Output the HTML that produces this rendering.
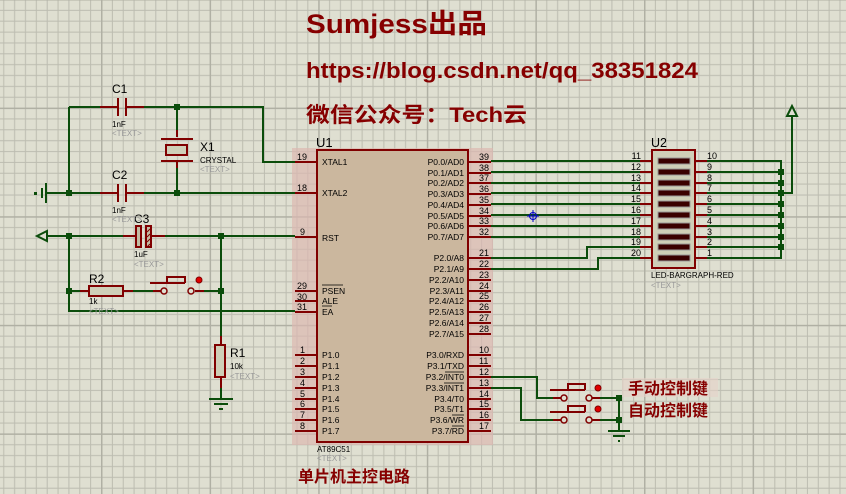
<!DOCTYPE html>
<html><head><meta charset="utf-8"><style>
html,body{margin:0;padding:0;background:#dfdfd1;}
svg{display:block;font-family:"Liberation Sans","Noto Sans CJK SC",sans-serif;}
</style></head><body>
<svg width="846" height="494" viewBox="0 0 846 494" xmlns="http://www.w3.org/2000/svg">
<defs>
<pattern id="g" x="-7.6" y="-1" width="108.6" height="108.6" patternUnits="userSpaceOnUse">
<g stroke="#bcbcb0" stroke-width="1">
<path d="M0.5 0V108.6M11.36 0V108.6M22.22 0V108.6M33.08 0V108.6M43.94 0V108.6M54.8 0V108.6M65.66 0V108.6M76.52 0V108.6M87.38 0V108.6M98.24 0V108.6"/>
<path d="M0 0.5H108.6M0 11.36H108.6M0 22.22H108.6M0 33.08H108.6M0 43.94H108.6M0 54.8H108.6M0 65.66H108.6M0 76.52H108.6M0 87.38H108.6M0 98.24H108.6"/>
</g>
<path d="M0.5 0V108.6M0 0.5H108.6" stroke="#b0b0a4" stroke-width="2"/>
</pattern>
</defs>
<rect width="846" height="494" fill="#dfdfd1"/>
<rect width="846" height="494" fill="url(#g)"/>

<!-- titles -->
<g fill="#860000" font-weight="bold">
<text x="306" y="33" font-size="27" textLength="181" lengthAdjust="spacingAndGlyphs">Sumjess出品</text>
<text x="306" y="78" font-size="22.5" textLength="392" lengthAdjust="spacingAndGlyphs">https://blog.csdn.net/qq_38351824</text>
<text x="306" y="122" font-size="21" textLength="221" lengthAdjust="spacingAndGlyphs">微信公众号：Tech云</text>
<text x="298" y="482" font-size="16">单片机主控电路</text>
</g>

<!-- U1 -->
<rect x="292" y="148" width="201" height="297" fill="#dcb8b0" opacity="0.7"/>
<rect x="317" y="150" width="151" height="292" fill="#cbb79e" stroke="#800000" stroke-width="2"/>
<text x="316" y="147" font-size="13" fill="#000">U1</text>
<text x="317" y="452" font-size="8" fill="#000">AT89C51</text>
<text x="317" y="461" font-size="8" fill="#999">&lt;TEXT&gt;</text>
<g stroke="#800000" stroke-width="2">
<path d="M295 162H317M295 193H317M295 237H317M295 291H317M295 301H317M295 312H317"/>
<path d="M295 355H317M295 366H317M295 377H317M295 388H317M295 399H317M295 409H317M295 420H317M295 431H317"/>
<path d="M468 162H491M468 173H491M468 183H491M468 194H491M468 205H491M468 216H491M468 226H491M468 237H491"/>
<path d="M468 258H491M468 269H491M468 280H491M468 291H491M468 301H491M468 312H491M468 323H491M468 334H491"/>
<path d="M468 355H491M468 366H491M468 377H491M468 388H491M468 399H491M468 409H491M468 420H491M468 431H491"/>
</g>
<g font-size="9" fill="#000">
<text x="297" y="160">19</text><text x="297" y="191">18</text><text x="300" y="235">9</text>
<text x="297" y="289">29</text><text x="297" y="300">30</text><text x="297" y="310">31</text>
<text x="300" y="353">1</text><text x="300" y="364">2</text><text x="300" y="375">3</text><text x="300" y="386">4</text><text x="300" y="397">5</text><text x="300" y="407">6</text><text x="300" y="418">7</text><text x="300" y="429">8</text>
<text x="479" y="160">39</text><text x="479" y="171">38</text><text x="479" y="181">37</text><text x="479" y="192">36</text><text x="479" y="203">35</text><text x="479" y="214">34</text><text x="479" y="224">33</text><text x="479" y="235">32</text>
<text x="479" y="256">21</text><text x="479" y="267">22</text><text x="479" y="278">23</text><text x="479" y="289">24</text><text x="479" y="299">25</text><text x="479" y="310">26</text><text x="479" y="321">27</text><text x="479" y="332">28</text>
<text x="479" y="353">10</text><text x="479" y="364">11</text><text x="479" y="375">12</text><text x="479" y="386">13</text><text x="479" y="397">14</text><text x="479" y="407">15</text><text x="479" y="418">16</text><text x="479" y="429">17</text>
</g>
<g font-size="8.5" fill="#000">
<text x="322" y="165">XTAL1</text><text x="322" y="196">XTAL2</text><text x="322" y="241">RST</text>
<text x="322" y="294">PSEN</text><text x="322" y="304">ALE</text><text x="322" y="315">EA</text>
<text x="322" y="358">P1.0</text><text x="322" y="369">P1.1</text><text x="322" y="380">P1.2</text><text x="322" y="391">P1.3</text><text x="322" y="402">P1.4</text><text x="322" y="412">P1.5</text><text x="322" y="423">P1.6</text><text x="322" y="434">P1.7</text>
</g>
<path d="M322 285H343M322 306H332" stroke="#000" stroke-width="0.7"/>
<g font-size="8.5" fill="#000" text-anchor="end">
<text x="464" y="165">P0.0/AD0</text><text x="464" y="176">P0.1/AD1</text><text x="464" y="186">P0.2/AD2</text><text x="464" y="197">P0.3/AD3</text><text x="464" y="208">P0.4/AD4</text><text x="464" y="219">P0.5/AD5</text><text x="464" y="229">P0.6/AD6</text><text x="464" y="240">P0.7/AD7</text>
<text x="464" y="261">P2.0/A8</text><text x="464" y="272">P2.1/A9</text><text x="464" y="283">P2.2/A10</text><text x="464" y="294">P2.3/A11</text><text x="464" y="304">P2.4/A12</text><text x="464" y="315">P2.5/A13</text><text x="464" y="326">P2.6/A14</text><text x="464" y="337">P2.7/A15</text>
<text x="464" y="358">P3.0/RXD</text><text x="464" y="369">P3.1/TXD</text><text x="464" y="380">P3.2/INT0</text><text x="464" y="391">P3.3/INT1</text><text x="464" y="402">P3.4/T0</text><text x="464" y="412">P3.5/T1</text><text x="464" y="423">P3.6/WR</text><text x="464" y="434">P3.7/RD</text>
</g>
<path d="M445 372H464M444 383H464M452 415H464M452 426H464" stroke="#000" stroke-width="0.7"/>

<!-- U2 -->
<rect x="652" y="150" width="43" height="118" fill="#cfcfb8" stroke="#800000" stroke-width="2"/>
<g fill="#3a0000" stroke="#999" stroke-width="1">
<rect x="658" y="158" width="32" height="6"/><rect x="658" y="169" width="32" height="6"/><rect x="658" y="180" width="32" height="6"/><rect x="658" y="190" width="32" height="6"/><rect x="658" y="201" width="32" height="6"/>
<rect x="658" y="212" width="32" height="6"/><rect x="658" y="223" width="32" height="6"/><rect x="658" y="234" width="32" height="6"/><rect x="658" y="244" width="32" height="6"/><rect x="658" y="255" width="32" height="6"/>
</g>
<text x="651" y="147" font-size="12.5" fill="#000">U2</text>
<text x="651" y="278" font-size="8" fill="#000">LED-BARGRAPH-RED</text>
<text x="651" y="288" font-size="8" fill="#999">&lt;TEXT&gt;</text>
<g stroke="#800000" stroke-width="2">
<path d="M640 161H652M640 172H652M640 183H652M640 193H652M640 204H652M640 215H652M640 226H652M640 237H652M640 247H652M640 258H652"/>
<path d="M695 161H707M695 172H707M695 183H707M695 193H707M695 204H707M695 215H707M695 226H707M695 237H707M695 247H707M695 258H707"/>
</g>
<g font-size="9" fill="#000">
<g text-anchor="end"><text x="641" y="159">11</text><text x="641" y="170">12</text><text x="641" y="181">13</text><text x="641" y="191">14</text><text x="641" y="202">15</text><text x="641" y="213">16</text><text x="641" y="224">17</text><text x="641" y="235">18</text><text x="641" y="245">19</text><text x="641" y="256">20</text></g>
<text x="707" y="159">10</text><text x="707" y="170">9</text><text x="707" y="181">8</text><text x="707" y="191">7</text><text x="707" y="202">6</text><text x="707" y="213">5</text><text x="707" y="224">4</text><text x="707" y="235">3</text><text x="707" y="245">2</text><text x="707" y="256">1</text>
</g>

<!-- wires -->
<g stroke="#0b4d0b" stroke-width="2" fill="none">
<path d="M491 161H640M491 172H640M491 183H640M491 193H640M491 204H640M491 215H640M491 226H640M491 237H640"/>
<path d="M491 258H587V247H640M491 269H598V258H640"/>
<path d="M707 161H781V258H707M707 172H781M707 183H781M707 193H792V113M707 204H781M707 215H781M707 226H781M707 237H781M707 247H781"/>
<path d="M69 107H110M134 107H263V162H295M69 107V193M47 193H110M134 193H295M177 107V137M177 161V193"/>
<path d="M47 236H127M160 236H295M69 236V311H295M69 291H80M132 291H153M204 291H221M221 236V336"/>
<path d="M491 377H537V398H553M491 388H521V420H553M600 398H619M600 420H619M619 398V431"/>
<path d="M221 388V399"/>
</g>
<path d="M792 106L787 116H797Z" fill="#dfdfd1" stroke="#0b4d0b" stroke-width="2"/>
<path d="M37 236L47 231V241Z" fill="#dfdfd1" stroke="#0b4d0b" stroke-width="2"/>
<path d="M46 183V203M42 188V198" stroke="#0b4d0b" stroke-width="2"/>
<rect x="34" y="192" width="3" height="3" fill="#0b4d0b"/>
<g fill="#0b4d0b">
<rect x="66" y="190" width="6" height="6"/><rect x="174" y="104" width="6" height="6"/><rect x="174" y="190" width="6" height="6"/>
<rect x="66" y="233" width="6" height="6"/><rect x="218" y="233" width="6" height="6"/><rect x="66" y="288" width="6" height="6"/><rect x="218" y="288" width="6" height="6"/>
<rect x="778" y="169" width="6" height="6"/><rect x="778" y="180" width="6" height="6"/><rect x="778" y="190" width="6" height="6"/><rect x="778" y="201" width="6" height="6"/><rect x="778" y="212" width="6" height="6"/><rect x="778" y="223" width="6" height="6"/><rect x="778" y="234" width="6" height="6"/><rect x="778" y="244" width="6" height="6"/>
<rect x="616" y="395" width="6" height="6"/><rect x="616" y="417" width="6" height="6"/>
</g>

<!-- caps -->
<g stroke="#800000" stroke-width="2" fill="none">
<path d="M100 107H118M126 107H144M118 98V116M126 98V116"/>
<path d="M100 193H118M126 193H144M118 184V202M126 184V202"/>
<path d="M123 236H136M150 236H165"/>
<path d="M177 130V137M177 161V168M161 139H193M161 161H193"/>
<path d="M80 291H89M123 291H133M221 336V345M221 377V388"/>
<path d="M153 291H161M195 291H204M150 283H185M167 283V277H185V283"/>
<path d="M553 398H561M592 398H600M550 390H585M568 390V384H585V390"/>
<path d="M553 420H561M592 420H600M550 412H585M568 412V406H585V412"/>
</g>
<rect x="136" y="226" width="5" height="21" fill="#c3bca4" stroke="#800000" stroke-width="2"/>
<rect x="146" y="226" width="5" height="21" fill="#c3bca4" stroke="#800000" stroke-width="2"/>
<path d="M147 232l3-3M147 237l3-3M147 242l3-3M147 247l3-3" stroke="#800000"/>
<rect x="166" y="145" width="21" height="10" fill="#cfcfb8" stroke="#800000" stroke-width="2"/>
<rect x="89" y="286" width="34" height="10" fill="#cfcfb8" stroke="#800000" stroke-width="2"/>
<rect x="215" y="345" width="10" height="32" fill="#cfcfb8" stroke="#800000" stroke-width="2"/>
<g fill="#dfdfd1" stroke="#800000" stroke-width="1.5">
<circle cx="164" cy="291" r="3"/><circle cx="191" cy="291" r="3"/>
<circle cx="564" cy="398" r="3"/><circle cx="589" cy="398" r="3"/>
<circle cx="564" cy="420" r="3"/><circle cx="589" cy="420" r="3"/>
</g>
<g fill="#e00000" stroke="#800000"><circle cx="199" cy="280" r="3"/><circle cx="598" cy="388" r="3"/><circle cx="598" cy="409" r="3"/></g>
<!-- grounds -->
<g stroke="#0b4d0b" stroke-width="2"><path d="M209 399H233M214 404H228M219 409H223"/><path d="M608 431H630M613 436H625M618 441H620"/></g>

<g font-size="12" fill="#000">
<text x="112" y="93">C1</text><text x="112" y="179">C2</text><text x="134" y="223">C3</text><text x="200" y="151">X1</text><text x="89" y="283">R2</text><text x="230" y="357">R1</text>
</g>
<g font-size="8" fill="#000">
<text x="112" y="127">1nF</text><text x="112" y="213">1nF</text><text x="134" y="257">1uF</text><text x="200" y="163">CRYSTAL</text><text x="89" y="304">1k</text><text x="230" y="369">10k</text>
</g>
<g font-size="8" fill="#999">
<text x="112" y="136">&lt;TEXT&gt;</text><text x="112" y="222">&lt;TEXT&gt;</text><text x="134" y="267">&lt;TEXT&gt;</text><text x="200" y="172">&lt;TEXT&gt;</text><text x="89" y="314">&lt;TEXT&gt;</text><text x="230" y="379">&lt;TEXT&gt;</text>
</g>

<rect x="622" y="378" width="96" height="19" fill="#e6d2c8" opacity="0.6"/>
<g fill="#860000" font-size="16" font-weight="bold"><text x="628" y="394">手动控制键</text><text x="628" y="416">自动控制键</text></g>

<g stroke="#0000cc" fill="none" stroke-width="1"><circle cx="533" cy="216" r="3.5"/><path d="M533 210V222M527 216H539"/></g>
</svg>
</body></html>
